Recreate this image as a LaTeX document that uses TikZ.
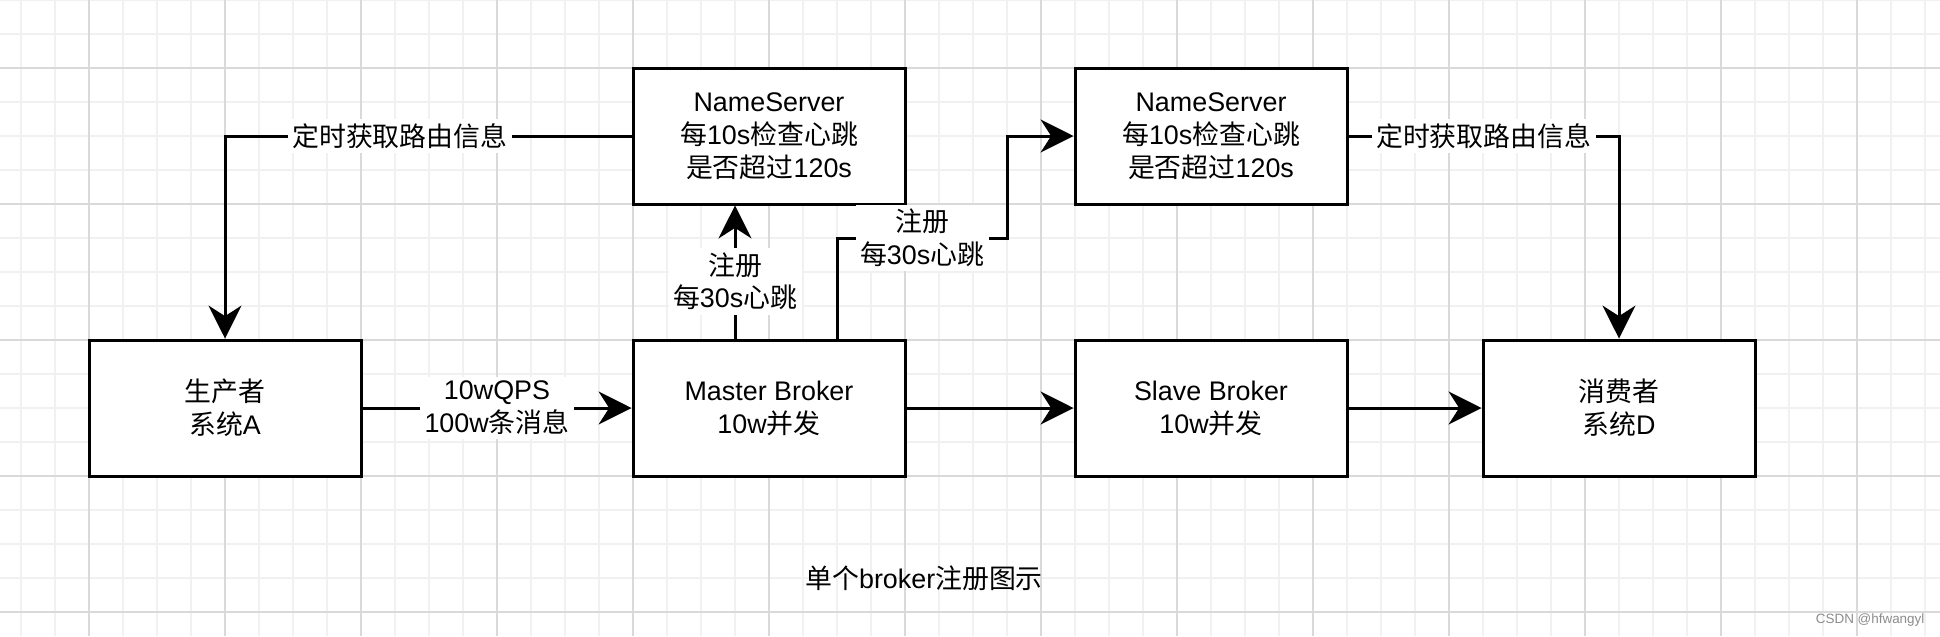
\documentclass[tikz,border=0pt]{standalone}
\usepackage{fontspec}
\setmainfont{Liberation Sans}
\newfontfamily\cjk{Noto Sans CJK SC}
\newcommand{\zh}[1]{{\cjk #1}}
\usetikzlibrary{arrows.meta,positioning}

\begin{document}
\begin{tikzpicture}[x=0.4cm, y=-0.4cm,
    box/.style={draw, line width=1pt, fill=white, minimum width=3.2cm, minimum height=1.6cm, align=center, font=\fontsize{9}{11}\selectfont},
    link/.style={line width=1pt, -{Stealth[length=11pt, width=11pt, inset=3.5pt]}},
    lbl/.style={fill=white, align=center, inner sep=1.5pt, font=\fontsize{9}{11}\selectfont}]
    % Background and grid
    \useasboundingbox (-0.618,0) rectangle (56.441,18.706);
    \fill[white] (-0.618,0) rectangle (56.441,18.706);
    \foreach \i in {0,...,56}
        \draw[gray!11, line width=0.4pt] (\i,0) -- (\i,18.706);
    \foreach \j in {0,...,18}
        \draw[gray!11, line width=0.4pt] (-0.618,\j) -- (56.441,\j);
    \foreach \i in {2,6,...,54}
        \draw[black!15, line width=0.4pt] (\i,0) -- (\i,18.706);
    \foreach \j in {2,6,...,18}
        \draw[black!15, line width=0.4pt] (-0.618,\j) -- (56.441,\j);

    % Boxes
    \node[box] (prod) at (6,12) {\zh{生产者}\\\zh{系统}A};
    \node[box] (master) at (22,12) {Master Broker\\10w\zh{并发}};
    \node[box] (slave) at (35,12) {Slave Broker\\10w\zh{并发}};
    \node[box] (cons) at (47,12) {\zh{消费者}\\\zh{系统}D};
    \node[box] (ns1) at (22,4) {NameServer\\\zh{每}10s\zh{检查心跳}\\\zh{是否超过}120s};
    \node[box] (ns2) at (35,4) {NameServer\\\zh{每}10s\zh{检查心跳}\\\zh{是否超过}120s};

    % Message flow
    \draw[link] (prod) -- (master) node[lbl, midway] {10wQPS\\100w\zh{条消息}};
    \draw[link] (master) -- (slave);
    \draw[link] (slave) -- (cons);

    % Registration
    \draw[link] ([xshift=-0.4cm]master.north) -- ([xshift=-0.4cm]ns1.south)
        node[lbl, pos=0.43] {\zh{注册}\\\zh{每}30s\zh{心跳}};
    \draw[link] ([xshift=0.8cm]master.north) |- (29,7)
        node[lbl, pos=0.75] {\zh{注册}\\\zh{每}30s\zh{心跳}} |- (ns2.west);

    % Routing info
    \draw[link] (ns1.west) -| (prod.north) node[lbl, pos=0.285] {\zh{定时获取路由信息}};
    \draw[link] (ns2.east) -| (cons.north) node[lbl, pos=0.25] {\zh{定时获取路由信息}};

    % Labels
    \node[font=\fontsize{9}{11}\selectfont] (caption) at (26.56,17) {\zh{单个}broker\zh{注册图示}};
    \node[anchor=east, text=black!45, inner sep=0pt, font=\fontsize{4.5}{5}\selectfont] (mark) at (56,18.24) {CSDN @hfwangyl};
\end{tikzpicture}
\end{document}
